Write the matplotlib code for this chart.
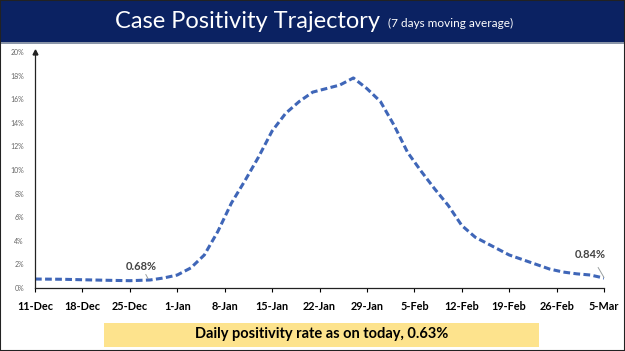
import matplotlib
matplotlib.use("Agg")
import matplotlib.pyplot as plt
from matplotlib.patches import Rectangle
import numpy as np

# data: day offset from 11-Dec, 7-day moving average positivity (%)
days = [0, 4, 7, 11, 14, 17, 19, 21, 23, 25, 27, 29, 31, 33, 35, 37, 39, 41, 43, 45,
        47, 49, 51, 53, 55, 57, 59, 61, 63, 65, 67, 70, 73, 76, 78, 80, 82, 84]
positivity = [0.76, 0.74, 0.70, 0.65, 0.62, 0.68, 0.85, 1.1, 1.7, 2.8, 4.8, 7.2, 9.1, 11.1,
              13.3, 14.8, 15.8, 16.6, 16.9, 17.2, 17.8, 16.9, 15.8, 13.8, 11.5, 9.9, 8.4,
              7.0, 5.3, 4.3, 3.7, 2.8, 2.2, 1.6, 1.35, 1.2, 1.1, 0.84]
tick_labels = ["11-Dec", "18-Dec", "25-Dec", "1-Jan", "8-Jan", "15-Jan", "22-Jan",
               "29-Jan", "5-Feb", "12-Feb", "19-Feb", "26-Feb", "5-Mar"]
y_ticks = [0, 2, 4, 6, 8, 10, 12, 14, 16, 18, 20]
title = "Case Positivity Trajectory"
subtitle = "(7 days moving average)"
footer = "Daily positivity rate as on today, 0.63%"
ann_start = ("0.68%", 17, 0.68)
ann_end = ("0.84%", 84, 0.84)

plt.rcParams['font.family'] = ['Lato', 'DejaVu Sans']

W, H = 625, 351
fig = plt.figure(figsize=(W / 100, H / 100), dpi=100)
fig.patch.set_facecolor("white")

# title bar
fig.patches.append(Rectangle((0, 1 - 42 / H), 1, 42 / H, transform=fig.transFigure,
                             facecolor="#0b2262", edgecolor="none", zorder=0))
fig.patches.append(Rectangle((0, 1 - 44 / H), 1, 2 / H, transform=fig.transFigure,
                             facecolor="#8a95a8", edgecolor="none", zorder=0))
fig.text(115 / W, 1 - 21 / H, title, color="white", fontsize=17, ha="left", va="center")
fig.text(388 / W, 1 - 23 / H, subtitle, color="white", fontsize=8.5, ha="left", va="center")

# footer box
fig.patches.append(Rectangle((104 / W, 1 - 347 / H), (539 - 104) / W, 24 / H,
                             transform=fig.transFigure, facecolor="#fde38d",
                             edgecolor="none", zorder=0))
fig.text(322 / W, 1 - 334 / H, footer, color="black", fontsize=10.5,
         fontweight="bold", ha="center", va="center")

# figure border
fig.patches.append(Rectangle((0, 0), 1, 1, transform=fig.transFigure, facecolor="none",
                             edgecolor="#222222", linewidth=1.5, zorder=5))

ax = fig.add_axes([35 / W, 1 - 288 / H, 569 / W, 236 / H])
ax.plot(days, positivity, color="#3f66b8", linewidth=2.2,
        linestyle=(0, (2.2, 1.1)), solid_capstyle="butt", dash_capstyle="butt")
ax.set_xlim(0, 84)
ax.set_ylim(0, 20)
ax.set_xticks(np.arange(0, 85, 7))
ax.set_xticklabels(tick_labels, fontsize=7.8, fontweight="bold")
ax.set_yticks(y_ticks)
ax.set_yticklabels([f"{v}%" for v in y_ticks], fontsize=5, color="#666666")
ax.tick_params(axis="y", length=0, pad=8)
ax.tick_params(axis="x", length=3, direction="out", width=0.8, pad=6)
for s in ["top", "right"]:
    ax.spines[s].set_visible(False)
ax.spines["left"].set_color("#222222")
ax.spines["bottom"].set_color("#222222")
ax.spines["left"].set_linewidth(0.9)
ax.spines["bottom"].set_linewidth(0.9)
ax.plot([0], [1.0], marker="^", markersize=3.5, color="#222222",
        transform=ax.transAxes, clip_on=False)

ax.annotate(ann_start[0], xy=(ann_start[1] - 0.3, ann_start[2] + 0.1),
            xytext=(ann_start[1] - 1.3, 1.85), fontsize=8, color="#444444",
            ha="center", va="center", fontweight="bold",
            arrowprops=dict(arrowstyle="-", color="#9aa0a0", lw=0.7,
                            shrinkA=4, shrinkB=0))
ax.annotate(ann_end[0], xy=(ann_end[1], ann_end[2] + 0.05),
            xytext=(ann_end[1] - 2.0, 2.85), fontsize=8, color="#444444",
            ha="center", va="center", fontweight="bold",
            arrowprops=dict(arrowstyle="-", color="#9aa0a0", lw=0.7,
                            shrinkA=4, shrinkB=0), annotation_clip=False)

fig.savefig("out.png", dpi=100)
